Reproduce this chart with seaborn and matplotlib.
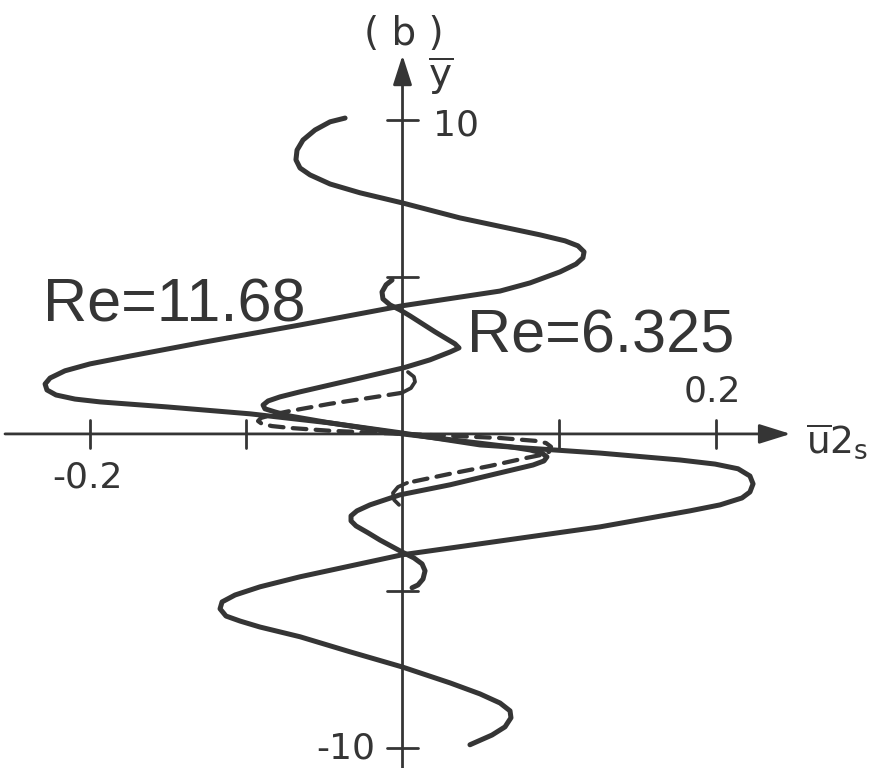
import matplotlib
matplotlib.use("Agg")
import matplotlib.pyplot as plt
import seaborn as sns

sns.set_theme(style="white")
plt.rcParams["font.family"] = ["Liberation Sans", "DejaVu Sans"]
plt.rcParams["mathtext.fontset"] = "custom"
plt.rcParams["mathtext.rm"] = "DejaVu Sans"
plt.rcParams["mathtext.it"] = "DejaVu Sans"

# Steady secondary velocity profiles u2s(y)
# Re = 11.68 (outer profile)
re_high_u = [-0.0367, -0.0463, -0.0559, -0.0636, -0.0674, -0.0681, -0.0655, -0.0591, -0.0463,
             -0.0272, -0.0003, 0.0367, 0.0879, 0.1038, 0.1121, 0.1160, 0.1153, 0.1109, 0.1006,
             0.0815, 0.0623, -0.0003, -0.0655, -0.1294, -0.1741, -0.1997, -0.2157, -0.2252,
             -0.2284, -0.2272, -0.2214, -0.2093, -0.1933, -0.1505, -0.0974, -0.0463, -0.0003,
             0.0495, 0.1262, 0.1773, 0.1997, 0.2144, 0.2220, 0.2240, 0.2220, 0.2169, 0.2029,
             0.1837, 0.1262, 0.0623, -0.0003, -0.0655, -0.0911, -0.1070, -0.1153, -0.1166,
             -0.1128, -0.1038, -0.0911, -0.0655, -0.0335, -0.0003, 0.0304, 0.0495, 0.0623,
             0.0687, 0.0693, 0.0655, 0.0572, 0.0431]
re_high_y = [10.06, 9.94, 9.68, 9.36, 9.04, 8.73, 8.47, 8.25, 7.96,
             7.68, 7.36, 6.88, 6.34, 6.15, 5.99, 5.80, 5.61, 5.41, 5.16,
             4.81, 4.55, 4.08, 3.47, 2.90, 2.48, 2.23, 2.01, 1.78,
             1.59, 1.40, 1.24, 1.11, 1.02, 0.86, 0.64, 0.35, 0.03,
             -0.35, -0.61, -0.83, -0.96, -1.11, -1.34, -1.59, -1.85, -2.04, -2.26,
             -2.45, -2.96, -3.41, -3.85, -4.55, -4.87, -5.13, -5.35, -5.57,
             -5.80, -5.96, -6.15, -6.46, -6.94, -7.42, -7.93, -8.28, -8.57,
             -8.82, -9.04, -9.33, -9.59, -9.90]

# Re = 6.325 (inner profile, solid)
re_low_u = [-0.0067, -0.0105, -0.0131, -0.0125, -0.0080, -0.0016, 0.0048, 0.0208, 0.0335,
            0.0361, 0.0304, 0.0176, 0.0003, -0.0272, -0.0655, -0.0783, -0.0859, -0.0891,
            -0.0879, -0.0815, -0.0719, -0.0463, 0.0, 0.0367, 0.0687, 0.0815, 0.0891, 0.0923,
            0.0904, 0.0834, 0.0623, 0.0304, -0.0016, -0.0208, -0.0291, -0.0329, -0.0329,
            -0.0297, -0.0220, -0.0144, -0.0003, 0.0073, 0.0125, 0.0144, 0.0131, 0.0099, 0.0061]
re_low_y = [4.90, 4.75, 4.52, 4.30, 4.11, 3.95, 3.76, 3.25, 2.87,
            2.74, 2.61, 2.36, 2.10, 1.78, 1.34, 1.18, 1.05, 0.92,
            0.80, 0.70, 0.57, 0.35, 0.0, -0.22, -0.41, -0.51, -0.61, -0.73,
            -0.86, -0.99, -1.24, -1.62, -1.94, -2.26, -2.45, -2.61, -2.77,
            -2.93, -3.15, -3.38, -3.76, -3.95, -4.14, -4.36, -4.62, -4.81, -4.90]

# second branch (dashed)
branch_u = [0.0035, 0.0073, 0.0080, 0.0054, -0.0003, -0.0208, -0.0463, -0.0719, -0.0834,
            -0.0904, -0.0923, -0.0898, -0.0834, -0.0719, -0.0463, 0.0, 0.0304, 0.0623,
            0.0847, 0.0917, 0.0949, 0.0936, 0.0885, 0.0796, 0.0559, 0.0304, 0.0029,
            -0.0029, -0.0061, -0.0054, -0.0022]
branch_y = [1.97, 1.82, 1.66, 1.46, 1.31, 1.15, 0.96, 0.73, 0.61,
            0.51, 0.41, 0.32, 0.25, 0.19, 0.10, 0.0, -0.06, -0.13,
            -0.22, -0.29, -0.41, -0.57, -0.67, -0.76, -1.02, -1.27, -1.56,
            -1.69, -1.88, -2.10, -2.26]

x_ticks = [-0.2, -0.1, 0.1, 0.2]
y_ticks = [-10, -5, 5, 10]
labels = ["Re=11.68", "Re=6.325"]

ink = "#353535"
fig = plt.figure(figsize=(8.72, 7.68), dpi=100)
ax = fig.add_axes([0, 0, 1, 1])
ax.set_xlim(-0.2572, 0.3)
ax.set_ylim(-10.64, 13.82)
ax.axis("off")

# coordinate axes with arrow heads
ax.annotate("", xy=(0.248, 0), xytext=(-0.254, 0),
            arrowprops=dict(arrowstyle="-|>,head_length=1.6,head_width=0.5",
                            color=ink, lw=2.0, shrinkA=0, shrinkB=0))
ax.annotate("", xy=(0, 12.06), xytext=(0, -10.7),
            arrowprops=dict(arrowstyle="-|>,head_length=1.5,head_width=0.48",
                            color=ink, lw=2.0, shrinkA=0, shrinkB=0))
for t in x_ticks:
    ax.plot([t, t], [-0.45, 0.45], color=ink, lw=2.0)
for t in y_ticks:
    ax.plot([-0.0096, 0.0096], [t, t], color=ink, lw=2.0)

# profiles
lw = 3.6
sns.lineplot(x=re_high_u, y=re_high_y, sort=False, estimator=None, color=ink,
             linewidth=lw, ax=ax, solid_capstyle="round", solid_joinstyle="round")
sns.lineplot(x=re_low_u, y=re_low_y, sort=False, estimator=None, color=ink,
             linewidth=lw, ax=ax, solid_capstyle="round", solid_joinstyle="round")
sns.lineplot(x=branch_u[4:-4], y=branch_y[4:-4], sort=False, estimator=None, color=ink,
             linewidth=lw * 0.85, ax=ax, linestyle=(0, (3.2, 2.2)), dash_capstyle="round")
sns.lineplot(x=branch_u[:5], y=branch_y[:5], sort=False, estimator=None, color=ink,
             linewidth=lw * 0.75, ax=ax, solid_capstyle="round", solid_joinstyle="round")
sns.lineplot(x=branch_u[-5:], y=branch_y[-5:], sort=False, estimator=None, color=ink,
             linewidth=lw * 0.75, ax=ax, solid_capstyle="round", solid_joinstyle="round")

# labels
ax.text(-0.2297, 3.57, labels[0], fontsize=44, color=ink, ha="left", va="baseline")
ax.text(0.0412, 2.58, labels[1], fontsize=44, color=ink, ha="left", va="baseline")
small = dict(fontsize=26, color=ink, va="baseline", family=["DejaVu Sans"])
ax.text(-0.2016, -1.72, "-0.2", ha="center", **small)
ax.text(0.1978, 1.02, "0.2", ha="center", **small)
ax.text(0.0195, 9.52, "10", ha="left", **small)
ax.text(-0.0176, -10.35, "-10", ha="right", **small)
ax.text(0.001, 12.39, "( b )", fontsize=28, color=ink, ha="center", va="baseline",
        family=["DejaVu Sans"])
ax.text(0.024, 11.05, r"$\overline{\mathrm{y}}$", fontsize=28, color=ink, ha="center", va="baseline")
ax.text(0.2578, -0.6, r"$\overline{\mathrm{u}}\mathrm{2}_{\mathrm{s}}$", fontsize=27, color=ink,
        ha="left", va="baseline")

fig.savefig("out.png", dpi=100, facecolor="white")
